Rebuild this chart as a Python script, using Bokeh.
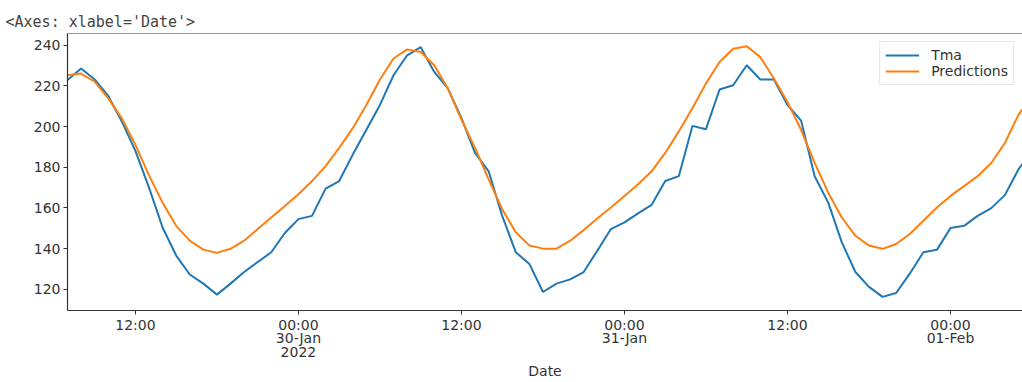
import pandas as pd
from bokeh.plotting import figure
from bokeh.models import Range1d, FixedTicker, Span
from bokeh.embed import file_html
from bokeh.resources import INLINE

# ---- data (hourly) ----
start_time = "2022-01-29 07:00"
tma = [222.8, 228.5, 223.1, 215, 202.5, 188, 170, 150.4, 136.6, 127.3,
       122.8, 117.4, 122.8, 128.5, 133.4, 138.2, 147.7, 154.5, 156.1, 169.5,
       173.2, 186.2, 198.4, 210.6, 225.2, 235, 239, 226.8, 218.7, 204.1,
       187, 178, 156.1, 138.2, 132.5, 118.7, 122.8, 124.9, 128.5, 139,
       149.6, 152.9, 157.3, 161.5, 173.2, 175.6, 200.3, 198.7, 218.2, 220.3,
       230.1, 223.1, 223.1, 210.6, 202.9, 175.6, 162.6, 143.1, 128.5, 121.2,
       116.3, 118.2, 127.7, 138.2, 139.4, 150.1, 151.2, 156.1, 159.9, 166.3,
       178.9, 188]
predictions = [225.2, 226, 222, 213.8, 204, 191, 176, 162.6, 151.2, 143.9,
               139.5, 137.9, 139.9, 143.9, 149.6, 155.3, 161, 166.7, 173.2, 180.5,
               189.5, 199.2, 210.6, 223.1, 233.4, 237.9, 236.6, 230.1, 218.7, 203.3,
               189.5, 174, 159.4, 148, 141.5, 140, 140, 143.9, 149.1, 154.8,
               160.2, 165.9, 171.6, 178, 187, 197.6, 209, 221.2, 231.7, 238.2,
               239.4, 234.1, 223.6, 212, 198.4, 182.1, 167.5, 155.3, 146.3, 141.5,
               139.9, 142.3, 147.2, 153.7, 160.2, 165.9, 170.7, 175.6, 182.1, 191.9,
               205.7, 215]
x_tick_times = ["2022-01-29 12:00", "2022-01-30 00:00", "2022-01-30 12:00",
                "2022-01-31 00:00", "2022-01-31 12:00", "2022-02-01 00:00"]
x_tick_labels = ["12:00", "00:00\n30-Jan\n2022", "12:00",
                 "00:00\n31-Jan", "12:00", "00:00\n01-Feb"]
y_ticks = [120, 140, 160, 180, 200, 220, 240]
x_view_hours = 70.3
y_min, y_max = 109.6, 245.7

dates = pd.date_range(start_time, periods=len(tma), freq="h")
x0 = pd.Timestamp(start_time)
x1 = x0 + pd.Timedelta(hours=x_view_hours)

FONT = "DejaVu Sans"
TXT = "#333333"

p = figure(width=1022, height=382, x_axis_type="datetime",
           x_range=Range1d(x0, x1), y_range=Range1d(y_min, y_max),
           output_backend="svg", toolbar_location=None,
           min_border_left=67, min_border_right=0, min_border_top=33,
           min_border_bottom=0)
p.outline_line_color = None
p.xgrid.visible = False
p.ygrid.visible = False

p.title.text = "<Axes: xlabel='Date'>"
p.title.text_font = "DejaVu Sans Mono"
p.title.text_font_size = "15px"
p.title.text_font_style = "normal"
p.title.text_color = "#444444"
p.title.offset = -62
p.title.standoff = 6

p.line(dates, tma, color="#1f77b4", line_width=2, legend_label="Tma")
p.line(dates, predictions, color="#ff7f0e", line_width=2, legend_label="Predictions")

p.add_layout(Span(location=y_max, dimension="width", line_color=TXT, line_width=1.2))

tick_ms = [pd.Timestamp(t).value / 1e6 for t in x_tick_times]
p.xaxis.ticker = FixedTicker(ticks=tick_ms)
p.xaxis.major_label_overrides = {ms: lab for ms, lab in zip(tick_ms, x_tick_labels)}
p.yaxis.ticker = FixedTicker(ticks=y_ticks)

for ax in (p.xaxis, p.yaxis):
    ax.axis_line_color = TXT
    ax.axis_line_width = 1.2
    ax.major_tick_line_color = TXT
    ax.major_tick_out = 4
    ax.major_tick_in = 0
    ax.minor_tick_out = 0
    ax.minor_tick_in = 0
    ax.major_label_text_font = FONT
    ax.major_label_text_font_size = "14px"
    ax.major_label_text_color = TXT
    ax.major_label_standoff = 3

p.xaxis.major_label_standoff = 2
p.xaxis.major_label_text_line_height = 0.86

p.xaxis.axis_label = "Date"
p.xaxis.axis_label_text_font = FONT
p.xaxis.axis_label_text_font_size = "14px"
p.xaxis.axis_label_text_font_style = "normal"
p.xaxis.axis_label_text_color = TXT
p.xaxis.axis_label_standoff = 0

lg = p.legend[0]
lg.location = "top_right"
lg.margin = 8
lg.padding = 5
lg.spacing = 0
lg.glyph_width = 34
lg.glyph_height = 16
lg.label_height = 16
lg.label_standoff = 12
lg.label_text_font = FONT
lg.label_text_font_size = "14px"
lg.label_text_color = TXT
lg.border_line_color = "#cccccc"
lg.background_fill_alpha = 0.8

open("out.html", "w").write(file_html(p, INLINE))
